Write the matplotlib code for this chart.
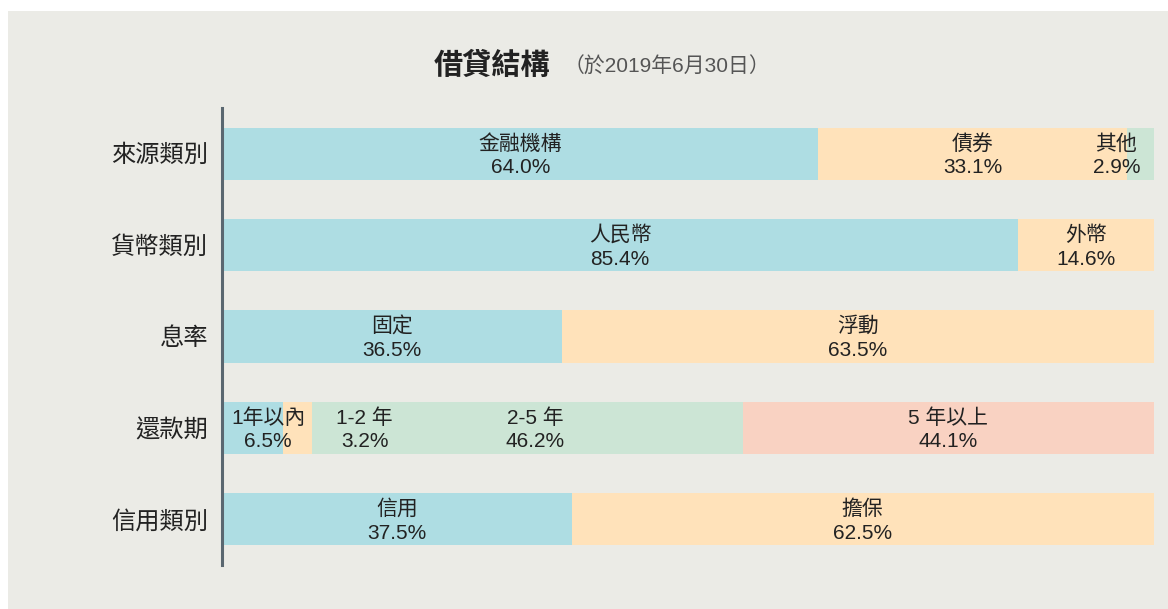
import numpy as np
import matplotlib.pyplot as plt
from matplotlib.patches import Rectangle

plt.rcParams['font.family'] = ['Liberation Sans', 'Noto Sans CJK TC', 'DejaVu Sans']

# 資料
categories = ['來源類別', '貨幣類別', '息率', '還款期', '信用類別']
seg_names = [
    ['金融機構', '債券', '其他'],
    ['人民幣', '外幣'],
    ['固定', '浮動'],
    ['1年以內', '1-2 年', '2-5 年', '5 年以上'],
    ['信用', '擔保'],
]
seg_values = [
    [64.0, 33.1, 2.9],
    [85.4, 14.6],
    [36.5, 63.5],
    [6.5, 3.2, 46.2, 44.1],
    [37.5, 62.5],
]
seg_colors = [
    ['#AEDDE3', '#FFE2BA', '#CCE5D5'],
    ['#AEDDE3', '#FFE2BA'],
    ['#AEDDE3', '#FFE2BA'],
    ['#AEDDE3', '#FFE2BA', '#CCE5D5', '#F9D2C2'],
    ['#AEDDE3', '#FFE2BA'],
]
# 標籤位移(避免重疊)
label_shift = {(0, 2): -2.6, (3, 0): 1.7, (3, 1): 7.2, (3, 2): 0.8}

bg = '#EBEBE6'
fig = plt.figure(figsize=(11.68, 6.09), dpi=100)
fig.patch.set_facecolor('white')
fig.patches.append(Rectangle((8 / 1168, 0), 1, 1 - 11 / 609, transform=fig.transFigure,
                             facecolor=bg, edgecolor='none', zorder=-10))

ax = fig.add_axes([222 / 1168, 1 - 565 / 609, 932 / 1168, 457 / 609])
ax.set_facecolor('none')
ax.set_xlim(0, 100)
ax.set_ylim(len(categories) - 0.5, -0.5)

for i, (names, vals, cols) in enumerate(zip(seg_names, seg_values, seg_colors)):
    left = 0
    for j, (n, v, c) in enumerate(zip(names, vals, cols)):
        ax.barh(i, v, left=left, height=0.57, color=c, edgecolor='none')
        x = left + v / 2 + label_shift.get((i, j), 0)
        ax.text(x, i + 0.02, f'{n}\n{v:.1f}%', ha='center', va='center', fontsize=15,
                color='#222222', linespacing=1.32)
        left += v

ax.set_yticks(range(len(categories)))
ax.set_yticklabels(categories, fontsize=17.5, color='#222222')
ax.tick_params(axis='y', length=0, pad=10)
ax.set_xticks([])
for s in ['top', 'right', 'bottom']:
    ax.spines[s].set_visible(False)
ax.spines['left'].set_color('#5A6770')
ax.spines['left'].set_linewidth(2.2)

fig.text(434 / 1168, 1 - 66 / 609, '借貸結構', fontsize=21, fontweight='bold',
         color='#222222', va='center', ha='left')
fig.text(564 / 1168, 1 - 67 / 609, '（於2019年6月30日）', fontsize=15, color='#555555',
         va='center', ha='left')

fig.savefig('out.png', dpi=100, facecolor=fig.get_facecolor())
